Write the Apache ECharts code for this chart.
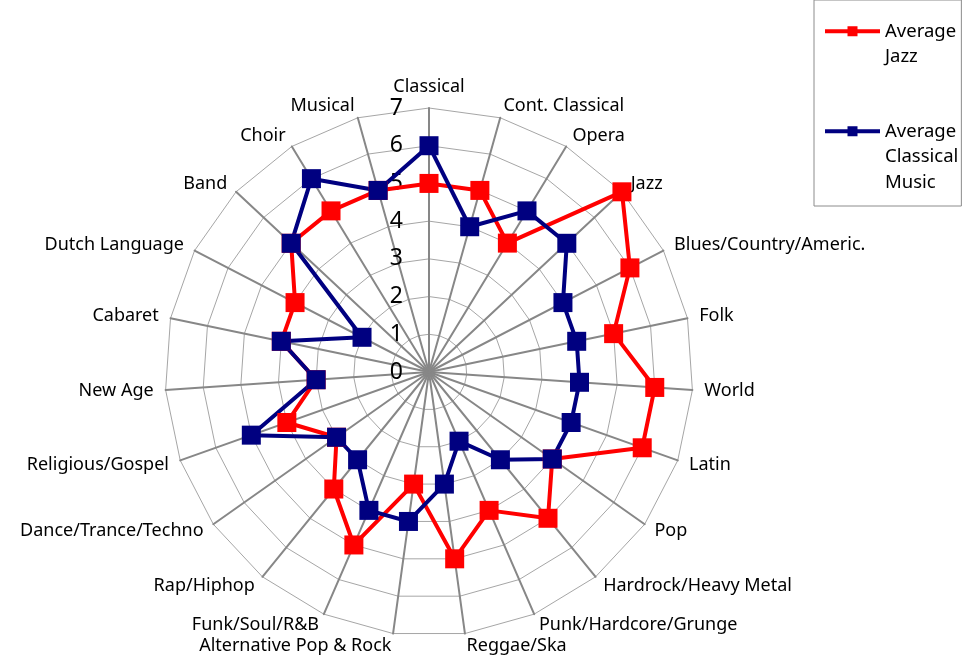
<!DOCTYPE html>
<html>
<head>
<meta charset="utf-8">
<script src="https://cdn.jsdelivr.net/npm/echarts@6/dist/echarts.min.js"></script>
<style>html,body{margin:0;padding:0;background:#fff}#c{width:962px;height:657px}</style>
</head>
<body>
<div id="c"></div>
<script>
const categories = ["Classical","Cont. Classical","Opera","Jazz","Blues/Country/Americ.","Folk","World","Latin","Pop","Hardrock/Heavy Metal","Punk/Hardcore/Grunge","Reggae/Ska","Alternative Pop & Rock","Funk/Soul/R&B","Rap/Hiphop","Dance/Trance/Techno","Religious/Gospel","New Age","Cabaret","Dutch Language","Band","Choir","Musical"];
const jazzValues = [5,5,4,7,6,5,6,6,4,5,4,5,3,5,4,3,4,3,4,4,5,5,5];
const classicalValues = [6,4,5,5,4,4,4,4,4,3,2,3,4,4,3,3,5,3,4,2,5,6,5];
const seriesNames = ["Average Jazz","Average Classical Music"];
const tickMax = 7;

const FONT = "Noto Sans";
// ECharts places radar indicators counter-clockwise; reorder so they run clockwise
const order = [0].concat(categories.map((_, i) => i).slice(1).reverse());
const indicator = order.map((i, k) => {
  const ind = { name: categories[i], min: 0, max: tickMax };
  if (k === 0) ind.axisLabel = { show: true };
  return ind;
});
const reorder = arr => order.map(i => arr[i]);
const legendIcon = 'path://M0,4H55V8H0ZM22.5,1H32.5V11H22.5Z';

const chart = echarts.init(document.getElementById('c'), null, { renderer: 'canvas' });
chart.setOption({
  backgroundColor: '#fff',
  animation: false,
  legend: {
    orient: 'vertical',
    left: 814,
    top: 0,
    padding: [-7, 3, 11, 11],
    itemGap: -2,
    itemWidth: 55,
    itemHeight: 12,
    borderColor: '#8c8c8c',
    borderWidth: 1,
    textStyle: { fontFamily: FONT, fontSize: 18.5, color: '#000', lineHeight: 25.5 },
    formatter: function (name) {
      const words = name.split(' ');
      // blank lines above so the icon sits beside the first line
      return '\n'.repeat(words.length - 1) + words.join('\n');
    },
    data: [
      { name: seriesNames[0], icon: legendIcon },
      { name: seriesNames[1], icon: legendIcon }
    ]
  },
  radar: {
    center: [429, 372],
    radius: 264,
    startAngle: 90,
    splitNumber: 7,
    shape: 'polygon',
    indicator: indicator,
    nameGap: 12,
    axisName: { color: '#000', fontSize: 18, fontFamily: FONT },
    splitLine: { lineStyle: { color: '#a6a6a6', width: 1 } },
    splitArea: { show: false },
    axisLine: { lineStyle: { color: '#878787', width: 2 } },
    axisTick: { show: false },
    axisLabel: { show: false, color: '#000', fontSize: 23, fontFamily: FONT, margin: 26 }
  },
  series: [
    {
      name: seriesNames[0], type: 'radar', symbol: 'rect', symbolSize: 19,
      lineStyle: { color: '#ff0000', width: 4 },
      itemStyle: { color: '#ff0000' },
      data: [{ value: reorder(jazzValues), name: seriesNames[0] }]
    },
    {
      name: seriesNames[1], type: 'radar', symbol: 'rect', symbolSize: 19,
      lineStyle: { color: '#000080', width: 4 },
      itemStyle: { color: '#000080' },
      data: [{ value: reorder(classicalValues), name: seriesNames[1] }]
    }
  ]
});
</script>
</body>
</html>
